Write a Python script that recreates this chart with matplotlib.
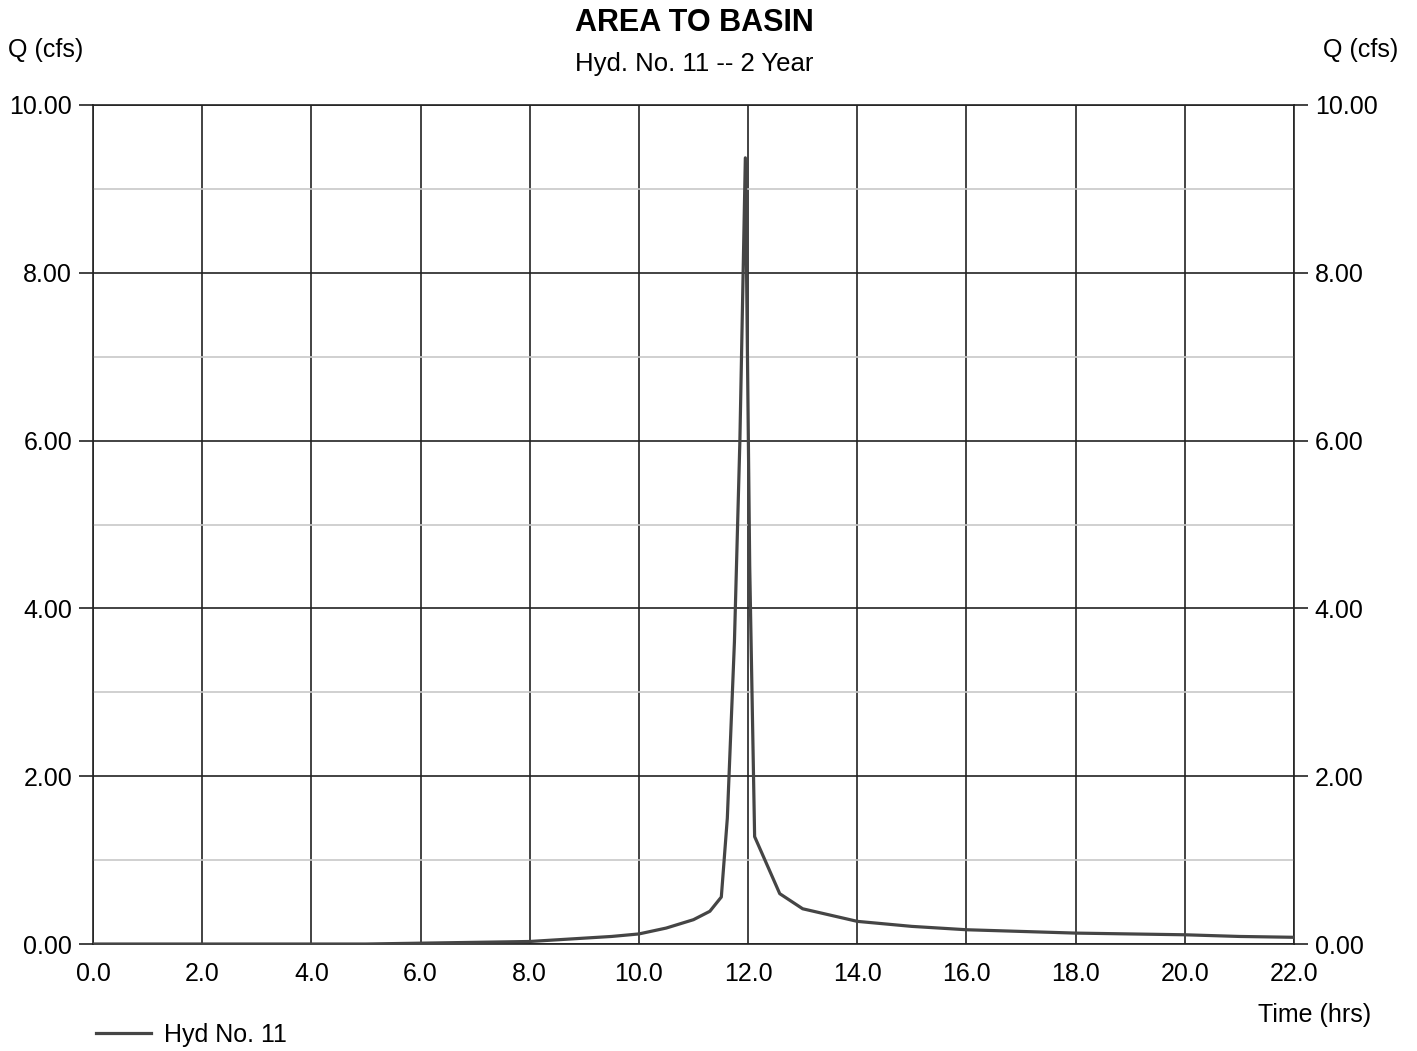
import numpy as np
import matplotlib.pyplot as plt

plt.rcParams['font.family'] = ['Liberation Sans', 'DejaVu Sans']

# hydrograph
time_hrs = [0.0, 2.0, 4.0, 5.0, 6.0, 7.0, 8.0, 9.0, 9.5, 10.0, 10.5, 11.0,
            11.3, 11.51, 11.62, 11.75, 11.85, 11.95, 12.03, 12.12, 12.58, 13.0,
            14.0, 15.0, 16.0, 17.0, 18.0, 19.0, 20.0, 21.0, 22.0]
flow_cfs = [0.0, 0.0, 0.0, 0.0, 0.01, 0.02, 0.03, 0.07, 0.09, 0.12, 0.19, 0.29,
            0.39, 0.56, 1.5, 3.6, 6.0, 9.37, 4.5, 1.28, 0.60, 0.42,
            0.27, 0.21, 0.17, 0.15, 0.13, 0.12, 0.11, 0.09, 0.08]

x_ticks = np.arange(0, 22.1, 2.0)
y_ticks = np.arange(0, 10.1, 2.0)
y_minor = np.arange(1, 10, 2.0)

fig = plt.figure(figsize=(14.17, 10.51), dpi=100)
ax = fig.add_axes([0.0656, 0.1018, 0.8476, 0.7983])

ax.plot(time_hrs, flow_cfs, color='#454545', lw=2.3, label='Hyd No. 11', zorder=3)

ax.set_xlim(0, 22)
ax.set_ylim(0, 10)
ax.set_xticks(x_ticks)
ax.set_xticklabels(['%.1f' % v for v in x_ticks])
ax.set_yticks(y_ticks)
ax.set_yticklabels(['%.2f' % v for v in y_ticks])
ax.set_yticks(y_minor, minor=True)

ax.grid(which='major', color='#222222', lw=1.2)
ax.grid(which='minor', axis='y', color='#c8c8c8', lw=1.2)
ax.tick_params(axis='y', which='major', length=10, width=1.2, color='#222222',
               labelsize=18, pad=5, left=True, right=True, labelleft=True, labelright=True)
ax.tick_params(axis='y', which='minor', length=0)
ax.tick_params(axis='x', length=0, labelsize=18, pad=13)
for s in ax.spines.values():
    s.set_color('#222222')
    s.set_linewidth(1.2)

fig.text(0.490, 0.978, 'AREA TO BASIN', ha='center', va='center', fontsize=22, fontweight='bold')
fig.text(0.490, 0.939, 'Hyd. No. 11 -- 2 Year', ha='center', va='center', fontsize=18.5)
fig.text(0.032, 0.952, 'Q (cfs)', ha='center', va='center', fontsize=18)
fig.text(0.960, 0.952, 'Q (cfs)', ha='center', va='center', fontsize=18)
fig.text(0.928, 0.034, 'Time (hrs)', ha='center', va='center', fontsize=18)

fig.legend(loc='center left', bbox_to_anchor=(0.052, 0.015), frameon=False,
           fontsize=18, handlelength=2.2, handletextpad=0.5)

fig.savefig('out.png', dpi=100, facecolor='white')
